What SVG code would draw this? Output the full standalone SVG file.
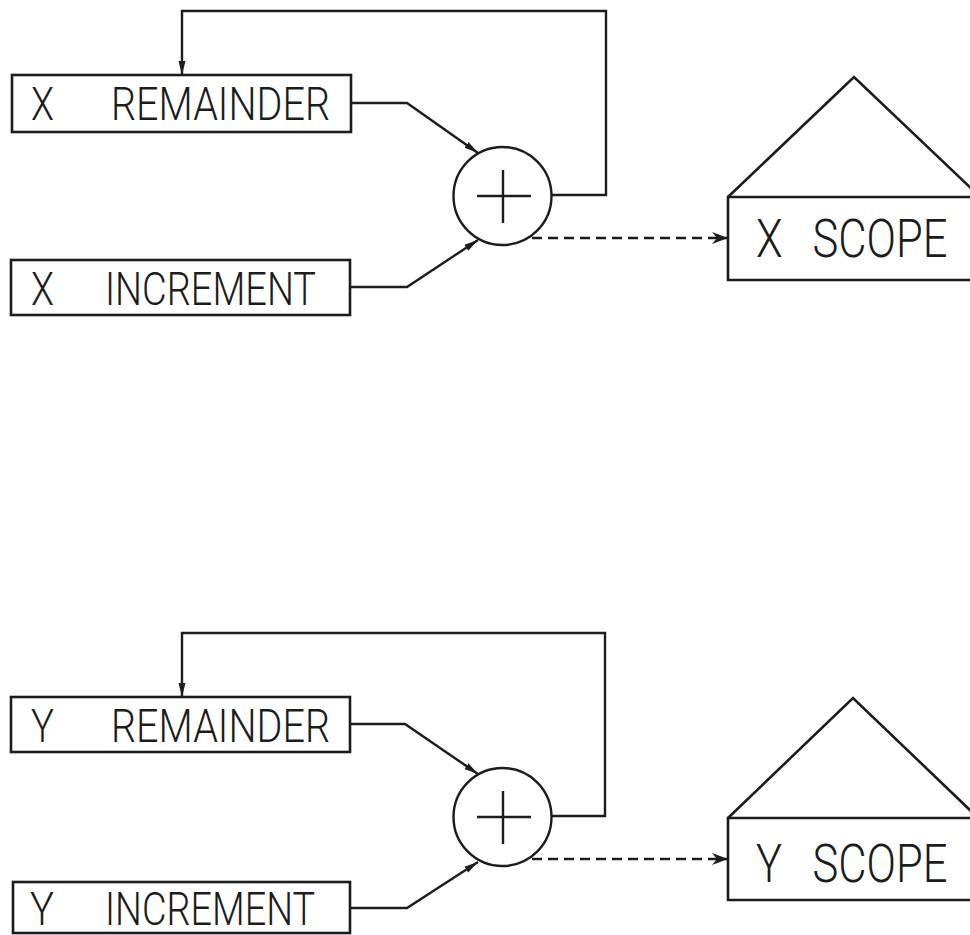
<svg xmlns="http://www.w3.org/2000/svg" width="970" height="935" viewBox="0 0 970 935">
<defs>
<style>
.box{fill:none;stroke:#1c1c1c;stroke-width:2.6}
.ln{fill:none;stroke:#1c1c1c;stroke-width:2.4}
.dash{fill:none;stroke:#1c1c1c;stroke-width:2.4;stroke-dasharray:10 6}
.lbl{font-family:Roboto,"Liberation Sans",sans-serif;font-weight:300;font-size:47px;fill:#1c1c1c}
.slbl{font-family:Roboto,"Liberation Sans",sans-serif;font-weight:300;font-size:53px;fill:#1c1c1c}
</style>
<marker id="ah" markerUnits="userSpaceOnUse" markerWidth="15" markerHeight="9" refX="14" refY="4.5" orient="auto">
<path d="M0,1 L14,4.5 L0,8 Z" fill="#1c1c1c"/>
</marker>
<marker id="ch" markerUnits="userSpaceOnUse" markerWidth="17" markerHeight="13" refX="16" refY="6.5" orient="auto">
<path d="M0,0.5 L16,6.5 L0,12.5 L5,6.5 Z" fill="#1c1c1c"/>
</marker>
</defs>
<rect width="970" height="935" fill="#fff"/>

<g id="connectors">
<path class="ln" d="M552 195 H606 V11 H182 V75" marker-end="url(#ah)"/>
<path class="ln" d="M351 103 H407 L478 153" marker-end="url(#ah)"/>
<path class="ln" d="M350 287 H407 L478 240" marker-end="url(#ah)"/>
<path class="dash" d="M532 238 H728" marker-end="url(#ch)"/>
<path class="ln" d="M552 816 H605 V633 H182 V697" marker-end="url(#ah)"/>
<path class="ln" d="M350 724 H405 L478 774" marker-end="url(#ah)"/>
<path class="ln" d="M350 908 H407 L478 862" marker-end="url(#ah)"/>
<path class="dash" d="M532 859 H728" marker-end="url(#ch)"/>
</g>

<g id="x-remainder">
<rect class="box" x="12" y="75" width="339" height="57"/>
<text class="lbl" y="120"><tspan x="31" textLength="23" lengthAdjust="spacingAndGlyphs">X</tspan><tspan x="111" textLength="219" lengthAdjust="spacingAndGlyphs">REMAINDER</tspan></text>
</g>
<g id="x-increment">
<rect class="box" x="11" y="260" width="339" height="55"/>
<text class="lbl" y="305"><tspan x="31" textLength="23" lengthAdjust="spacingAndGlyphs">X</tspan><tspan x="105" textLength="211" lengthAdjust="spacingAndGlyphs">INCREMENT</tspan></text>
</g>
<g id="x-adder">
<circle class="ln" cx="502.5" cy="196" r="49"/>
<path class="ln" d="M477 196 H531 M503 170 V223"/>
</g>
<g id="x-scope">
<path class="box" d="M728 197 L854 77 L974 191"/>
<path class="box" d="M970 197 H728 V280 H970"/>
<text class="slbl" transform="translate(0 257) scale(0.82 1)"><tspan x="922">X</tspan><tspan x="991">SCOPE</tspan></text>
</g>

<g id="y-remainder">
<rect class="box" x="11" y="697" width="339" height="55"/>
<text class="lbl" y="742"><tspan x="31" textLength="23" lengthAdjust="spacingAndGlyphs">Y</tspan><tspan x="111" textLength="219" lengthAdjust="spacingAndGlyphs">REMAINDER</tspan></text>
</g>
<g id="y-increment">
<rect class="box" x="13" y="882" width="337" height="51"/>
<text class="lbl" y="925"><tspan x="30" textLength="24" lengthAdjust="spacingAndGlyphs">Y</tspan><tspan x="105" textLength="210" lengthAdjust="spacingAndGlyphs">INCREMENT</tspan></text>
</g>
<g id="y-adder">
<circle class="ln" cx="502.5" cy="817" r="49"/>
<path class="ln" d="M477 817 H531 M503 791 V844"/>
</g>
<g id="y-scope">
<path class="box" d="M728 818 L853 698 L972 812"/>
<path class="box" d="M970 818 H728 V900 H970"/>
<text class="slbl" transform="translate(0 882) scale(0.82 1)"><tspan x="922">Y</tspan><tspan x="991">SCOPE</tspan></text>
</g>
</svg>
